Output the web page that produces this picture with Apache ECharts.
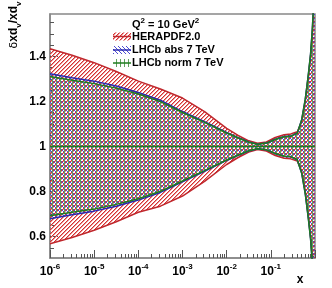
<!DOCTYPE html>
<html><head><meta charset="utf-8">
<script src="https://cdn.jsdelivr.net/npm/echarts@6/dist/echarts.min.js"></script>
<style>html,body{margin:0;padding:0;background:#fff}#c{width:332px;height:288px}</style>
</head><body><div id="c"></div>
<script>
// x grid given as log10(x)
const logX = [-6,-5.5,-5,-4.5,-4,-3.5,-3,-2.5,-2,-1.75,-1.5,-1.3,-1.1,-0.9,-0.7,-0.55,-0.4,-0.3,-0.22,-0.15,-0.1,-0.06,-0.03,0];
const heraUp  = [1.434,1.405,1.372,1.333,1.290,1.255,1.215,1.155,1.080,1.050,1.025,1.014,1.020,1.040,1.052,1.055,1.065,1.110,1.200,1.310,1.400,1.500,1.620,1.780];
const heraLow = [0.568,0.596,0.628,0.666,0.708,0.735,0.780,0.845,0.920,0.950,0.975,0.986,0.980,0.960,0.948,0.945,0.935,0.890,0.800,0.690,0.600,0.500,0.380,0.220];
const absUp   = [1.323,1.305,1.290,1.268,1.240,1.205,1.155,1.110,1.062,1.040,1.020,1.010,1.015,1.032,1.044,1.046,1.060,1.120,1.210,1.320,1.410,1.520,1.640,1.800];
const absLow  = [0.679,0.697,0.713,0.735,0.762,0.796,0.843,0.890,0.938,0.960,0.980,0.990,0.985,0.968,0.956,0.954,0.940,0.880,0.790,0.680,0.590,0.480,0.360,0.200];
const normUp  = [1.311,1.294,1.279,1.259,1.233,1.199,1.151,1.107,1.060,1.039,1.019,1.010,1.015,1.031,1.043,1.045,1.059,1.119,1.209,1.319,1.409,1.519,1.639,1.799];
const normLow = [0.693,0.708,0.722,0.743,0.768,0.801,0.847,0.893,0.940,0.961,0.981,0.990,0.985,0.969,0.957,0.955,0.941,0.881,0.791,0.681,0.591,0.481,0.361,0.201];
const central = 1;
const xMajorTicks = [1e-6,1e-5,1e-4,1e-3,1e-2,1e-1,1];
const xLabelTicks = [1e-6,1e-5,1e-4,1e-3,1e-2,1e-1];
const yLabelTicks = [0.6,0.8,1,1.2,1.4];
const yMinorTicks = [0.55,0.65,0.7,0.75,0.85,0.9,0.95,1.05,1.1,1.15,1.25,1.3,1.35,1.45,1.5,1.55];
const legendNames = ['HERAPDF2.0','LHCb abs 7 TeV','LHCb norm 7 TeV'];

const xMinorTicks = [];
for (let e = -6; e < 0; e++) for (let m = 2; m <= 9; m++) xMinorTicks.push(m * Math.pow(10, e));

const RED = '#c0282d', BLUE = '#2a2ab0', GREEN = '#1f7d1f';
// hatch tile: list of [test(x,y), rgb]
function makePattern(layers) {
  const n = 4;
  const c = document.createElement('canvas'); c.width = n; c.height = n;
  const g = c.getContext('2d');
  const img = g.createImageData(n, n);
  for (let y = 0; y < n; y++) for (let x = 0; x < n; x++) {
    const k = (y * n + x) * 4;
    img.data[k+3] = 0;
    for (const [test, rgb] of layers) {
      if (test(x, y)) { img.data[k] = rgb[0]; img.data[k+1] = rgb[1]; img.data[k+2] = rgb[2]; img.data[k+3] = 255; break; }
    }
  }
  g.putImageData(img, 0, 0);
  return {image: c, repeat: 'repeat'};
}
const patRed = makePattern([[(x, y) => (x + y) % 4 === 3, [212, 50, 50]], [(x, y) => (x + y) % 4 === 0, [238, 150, 150]]]);
const patBlue = makePattern([[(x, y) => x === y, [75, 75, 210]]]);
const patGreen = makePattern([[(x, y) => x === 0, [95, 160, 95]]]);

const xs = logX.map(l => Math.pow(10, l));
const pts = arr => arr.map((v, i) => [xs[i], v]);

function band(up, low, pat) {
  return {
    type:'custom', clip:true, silent:true, z:1,
    data:[[xs[0], low[0]]],
    renderItem: (params, api) => {
      const points = [];
      for (let i = 0; i < xs.length; i++) points.push(api.coord([xs[i], up[i]]));
      for (let i = xs.length - 1; i >= 0; i--) points.push(api.coord([xs[i], low[i]]));
      return {type:'polygon', shape:{points}, style:{fill: pat, stroke:null}};
    }
  };
}
function edge(arr, color) {
  return {type:'line', data: pts(arr), symbol:'none', lineStyle:{width:1.5, color}, z:3, silent:true};
}
const font = 'Liberation Sans';
const rich = {
  b:{fontFamily:font, fontWeight:'bold', fontSize:12, lineHeight:17, color:'#000'},
  s:{fontFamily:font, fontWeight:'bold', fontSize:8, verticalAlign:'top', color:'#000'},
  u:{fontFamily:font, fontWeight:'bold', fontSize:8, verticalAlign:'bottom', color:'#000'},
  d:{fontFamily:'DejaVu Sans', fontSize:11, lineHeight:17, color:'#000'}
};
const rowsY = [36.5, 50, 63];
const pats = [patRed, patBlue, patGreen], cols = [RED, BLUE, GREEN];
const graphics = [
  {type:'text', x:14, y:25, rotation:Math.PI/2, style:{text:'{d|δ}{b|xd}{u|v}{b|/xd}{u|v}', rich, align:'center', verticalAlign:'middle'}},
  {type:'text', x:300, y:280, style:{text:'x', font:'bold 12px ' + font, fill:'#000', align:'center', verticalAlign:'middle'}},
  {type:'text', x:132, y:25, style:{text:'{b|Q}{s|2}{b| = 10 GeV}{s|2}', rich:{b:Object.assign({}, rich.b, {fontSize:11}), s:rich.s}, align:'left', verticalAlign:'middle'}}
];
legendNames.forEach((nm, i) => {
  const y = rowsY[i];
  graphics.push({type:'rect', shape:{x:113, y:y-4, width:18, height:8}, style:{fill:pats[i], stroke:null}});
  graphics.push({type:'line', shape:{x1:113, y1:y, x2:131, y2:y}, style:{stroke:cols[i], lineWidth:1.5}});
  graphics.push({type:'text', x:132, y:y, style:{text:nm, font:'bold 11px ' + font, fill:'#000', align:'left', verticalAlign:'middle'}});
});

const chart = echarts.init(document.getElementById('c'), null, {renderer:'canvas'});
chart.setOption({
  animation:false,
  grid:{left:50, top:14, right:17, bottom:30, show:true, borderColor:'#888', borderWidth:1.5},
  xAxis:[
    {type:'log', logBase:10, min:1e-6, max:1,
     axisLine:{lineStyle:{color:'#888', width:1.5}},
     axisTick:{inside:true, length:8, customValues:xMajorTicks, lineStyle:{color:'#555'}},
     axisLabel:{customValues:xLabelTicks, margin:5, rich,
       formatter: v => '{b|10}{s|' + Math.round(Math.log10(v)) + '}'},
     splitLine:{show:false}, minorTick:{show:false}},
    {type:'log', logBase:10, min:1e-6, max:1, position:'bottom',
     axisLine:{show:false},
     axisTick:{inside:true, length:4, customValues:xMinorTicks, lineStyle:{color:'#555'}},
     axisLabel:{show:false}, splitLine:{show:false}}
  ],
  yAxis:[
    {type:'value', min:0.505, max:1.588,
     axisLine:{show:true, lineStyle:{color:'#888', width:1.5}},
     axisTick:{inside:true, length:8, customValues:yLabelTicks, lineStyle:{color:'#555'}},
     axisLabel:{customValues:yLabelTicks, margin:4, fontFamily:font, fontWeight:'bold', fontSize:12, color:'#000',
       formatter: v => String(Math.round(v * 10) / 10)},
     splitLine:{show:false}},
    {type:'value', min:0.505, max:1.588, position:'left',
     axisLine:{show:false},
     axisTick:{inside:true, length:4, customValues:yMinorTicks, lineStyle:{color:'#555'}},
     axisLabel:{show:false}, splitLine:{show:false}}
  ],
  series:[
    band(heraUp, heraLow, patRed),
    band(absUp, absLow, patBlue),
    band(normUp, normLow, patGreen),
    edge(heraUp, RED), edge(heraLow, RED),
    edge(absUp, BLUE), edge(absLow, BLUE),
    edge(normUp, GREEN), edge(normLow, GREEN),
    {type:'line', data: xs.map(x => [x, central]), symbol:'none', lineStyle:{width:1.5, color:GREEN}, z:4, silent:true}
  ],
  graphic: graphics
});
</script></body></html>
